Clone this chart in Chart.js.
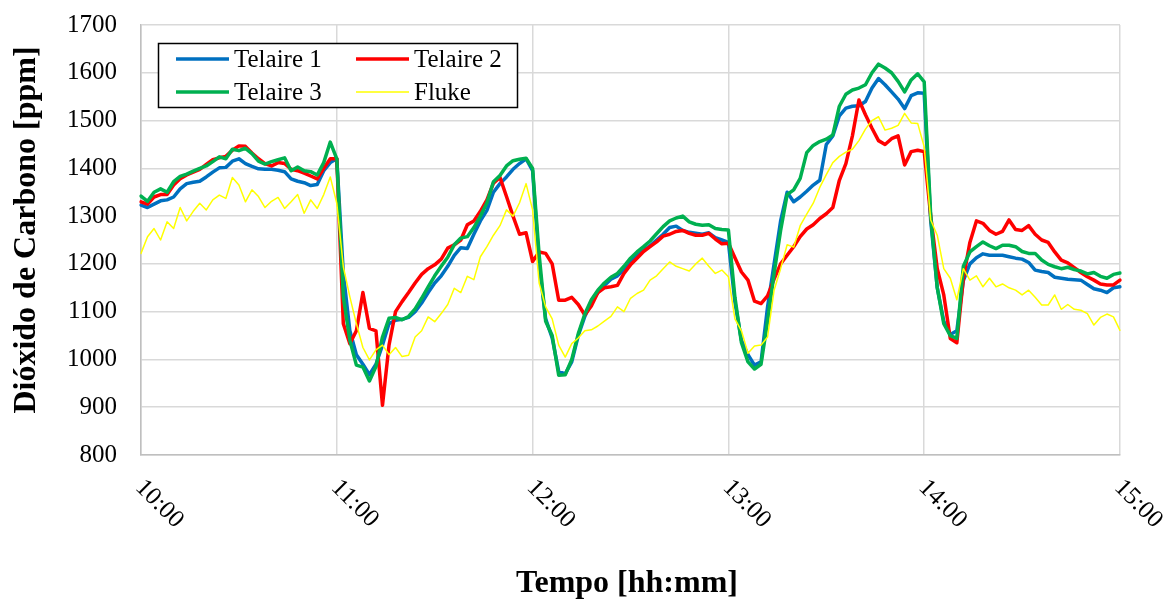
<!DOCTYPE html>
<html>
<head>
<meta charset="utf-8">
<script src="https://cdn.jsdelivr.net/npm/chart.js@4.4.0/dist/chart.umd.min.js"></script>
<style>
  html, body { margin: 0; padding: 0; background: #fff; }
</style>
</head>
<body>
<canvas id="grafico" width="1170" height="603"></canvas>
<script>
// Etiquetas de las horas (ticks del eje X) y limites del eje Y
const etiquetasHora = ['10:00', '11:00', '12:00', '13:00', '14:00', '15:00'];
const yMin = 800, yMax = 1700, yPaso = 100;

// Instantes de muestreo: cada 2 minutos de 10:00 a 15:00
const tiempos = [];
for (let m = 0; m <= 300; m += 2) {
  const h = 10 + Math.floor(m / 60);
  tiempos.push(h + ':' + String(m % 60).padStart(2, '0'));
}

// CO2 [ppm]
const telaire1 = [
  1323, 1318, 1325, 1332, 1334, 1340, 1357, 1368, 1371, 1373, 1382, 1392, 1401, 1402, 1415, 1420, 1410, 1404, 1399, 1398, 1398, 1396, 1393, 1378, 1373, 1370, 1364, 1366, 1395, 1412,
  1420, 1180, 1060, 1010, 990, 968, 990, 1030, 1075, 1082, 1084, 1088, 1100, 1118, 1140, 1160, 1175, 1195, 1218, 1234, 1232, 1262, 1290, 1312, 1350, 1368, 1382, 1398, 1410, 1420,
  1395, 1200, 1085, 1045, 975, 970, 995, 1050, 1090, 1120, 1140, 1155, 1168, 1175, 1188, 1205, 1218, 1228, 1238, 1250, 1262, 1276, 1279, 1270, 1266, 1264, 1262, 1265, 1255, 1250,
  1245, 1120, 1040, 1010, 988, 995, 1110, 1200, 1290, 1350, 1330, 1340, 1352, 1365, 1375, 1450, 1468, 1510, 1526, 1530, 1531, 1540, 1568, 1588, 1575, 1560, 1545, 1525, 1552, 1558,
  1557, 1290, 1150, 1080, 1052, 1060, 1165, 1200, 1213, 1221, 1218, 1218, 1218, 1215, 1212, 1210, 1203, 1187, 1184, 1182, 1172, 1170, 1168, 1167, 1166, 1157, 1148, 1145, 1140, 1150, 1152
];
const telaire2 = [
  1330, 1325, 1340, 1345, 1345, 1365, 1378, 1386, 1392, 1398, 1408, 1418, 1422, 1425, 1438, 1447, 1446, 1432, 1420, 1410, 1405, 1412, 1410, 1398, 1395, 1390, 1384, 1378, 1400, 1420,
  1420, 1075, 1033, 1060, 1140, 1065, 1060, 904, 1030, 1100, 1121, 1140, 1160, 1178, 1190, 1198, 1210, 1233, 1240, 1250, 1282, 1290, 1310, 1334, 1369, 1381, 1341, 1300, 1262, 1265,
  1205, 1225, 1222, 1200, 1124, 1124, 1130, 1115, 1093, 1112, 1140, 1150, 1152, 1155, 1180, 1198, 1212, 1226, 1236, 1246, 1258, 1262, 1268, 1270, 1264, 1260, 1260, 1264, 1252, 1242,
  1243, 1213, 1183, 1166, 1122, 1117, 1133, 1168, 1200, 1218, 1236, 1257, 1273, 1282, 1295, 1305, 1318, 1375, 1410, 1468, 1543, 1512, 1484, 1458, 1450, 1462, 1468, 1407, 1435, 1438,
  1435, 1300, 1190, 1135, 1044, 1035, 1170, 1245, 1290, 1285, 1270, 1262, 1268, 1292, 1272, 1270, 1280, 1262, 1250, 1245, 1225, 1208, 1202, 1192, 1182, 1173, 1166, 1158, 1156, 1156, 1166
];
const telaire3 = [
  1342, 1331, 1350, 1357, 1350, 1372, 1383, 1388, 1394, 1400, 1405, 1414, 1424, 1420, 1440, 1437, 1442, 1431, 1415, 1409, 1414, 1418, 1422, 1395, 1403, 1395, 1393, 1386, 1412, 1455,
  1420, 1131, 1040, 988, 984, 955, 985, 1047, 1086, 1088, 1083, 1090, 1106, 1128, 1152, 1175, 1195, 1214, 1240, 1254, 1257, 1276, 1300, 1328, 1372, 1385, 1405, 1416, 1419, 1421,
  1400, 1220, 1080, 1050, 967, 968, 1000, 1054, 1095, 1125, 1145, 1160, 1172, 1180, 1195, 1212, 1225, 1236, 1248, 1263, 1278, 1290, 1296, 1300, 1288, 1283, 1281, 1282, 1274, 1272,
  1271, 1130, 1035, 995, 980, 990, 1080, 1180, 1270, 1345, 1355, 1379, 1433, 1448, 1456, 1461, 1470, 1530, 1555, 1564, 1568, 1575, 1600, 1618, 1610, 1600, 1582, 1560, 1585, 1598,
  1581, 1300, 1150, 1075, 1050, 1044, 1195, 1225, 1236, 1246, 1238, 1232, 1239, 1239, 1236, 1226, 1222, 1222, 1208, 1199, 1194, 1190, 1193, 1188, 1185, 1179, 1182, 1174, 1170, 1178, 1181
];
const fluke = [
  1222, 1257, 1274, 1250, 1288, 1274, 1318, 1290, 1310, 1327, 1313, 1334, 1344, 1337, 1381, 1365, 1330, 1355, 1341, 1318, 1331, 1339, 1316, 1330, 1345, 1306, 1334, 1316, 1345, 1382,
  1327, 1194, 1131, 1075, 1025, 999, 1020, 1030, 1010, 1025, 1006, 1009, 1047, 1060, 1089, 1079, 1096, 1115, 1149, 1140, 1174, 1167, 1215, 1236, 1260, 1280, 1313, 1300, 1328, 1368,
  1313, 1160, 1110, 1085, 1030, 1005, 1033, 1045, 1060, 1062, 1070, 1080, 1090, 1110, 1100, 1128, 1138, 1145, 1166, 1175, 1190, 1204, 1195, 1190, 1185, 1200, 1212, 1195, 1180, 1187,
  1173, 1085, 1060, 1013, 1028, 1030, 1047, 1145, 1190, 1240, 1235, 1280, 1304, 1327, 1360, 1387, 1412, 1425, 1434, 1440, 1458, 1482, 1500, 1508, 1480, 1484, 1490, 1515, 1495, 1494,
  1445, 1292, 1260, 1190, 1170, 1125, 1190, 1166, 1175, 1152, 1170, 1152, 1158, 1150, 1145, 1135, 1145, 1130, 1114, 1114, 1135, 1105, 1115, 1105, 1103, 1096, 1072, 1088, 1095, 1089, 1061
];

const fuente = '"Liberation Serif", "Times New Roman", serif';

// Leyenda, etiquetas giradas del eje X y titulos de ejes
const extras = {
  id: 'extras',
  afterDraw(chart) {
    const ctx = chart.ctx;
    const area = chart.chartArea;
    const xs = chart.scales.x;
    ctx.save();
    ctx.fillStyle = '#000';

    // etiquetas de hora a 45 grados
    ctx.font = '25px ' + fuente;
    ctx.textAlign = 'left';
    ctx.textBaseline = 'top';
    etiquetasHora.forEach((lab, i) => {
      const px = xs.getPixelForTick(i * 30);
      ctx.save();
      ctx.translate(px + 7, area.bottom + 20);
      ctx.rotate(Math.PI / 4);
      ctx.fillText(lab, 0, 0);
      ctx.restore();
    });

    // titulos
    ctx.font = 'bold 32px ' + fuente;
    ctx.textAlign = 'center';
    ctx.textBaseline = 'middle';
    ctx.fillText('Tempo [hh:mm]', 627, 584);
    ctx.save();
    ctx.translate(27, 230);
    ctx.rotate(-Math.PI / 2);
    ctx.fillText('Dióxido de Carbono [ppm]', 0, 0);
    ctx.restore();

    // leyenda
    ctx.fillStyle = '#fff';
    ctx.fillRect(158, 43, 360, 65);
    ctx.strokeStyle = '#000';
    ctx.lineWidth = 1.5;
    ctx.strokeRect(158.5, 43.5, 359, 64);
    const pos = [[176, 59], [356, 59], [176, 92], [356, 92]];
    chart.data.datasets.forEach((ds, i) => {
      const [lx, ly] = pos[i];
      ctx.strokeStyle = ds.borderColor;
      ctx.lineWidth = ds.borderWidth;
      ctx.beginPath();
      ctx.moveTo(lx, ly);
      ctx.lineTo(lx + 53, ly);
      ctx.stroke();
      ctx.fillStyle = '#000';
      ctx.font = '25px ' + fuente;
      ctx.textAlign = 'left';
      ctx.textBaseline = 'middle';
      ctx.fillText(ds.label, lx + 58, ly + 1);
    });
    ctx.restore();
  }
};

new Chart(document.getElementById('grafico'), {
  type: 'line',
  data: {
    labels: tiempos,
    datasets: [
      { label: 'Telaire 1', data: telaire1, borderColor: '#0070C0', borderWidth: 3.5, order: 3 },
      { label: 'Telaire 2', data: telaire2, borderColor: '#FF0000', borderWidth: 3.5, order: 2 },
      { label: 'Telaire 3', data: telaire3, borderColor: '#00B050', borderWidth: 3.5, order: 1 },
      { label: 'Fluke', data: fluke, borderColor: '#FFFF00', borderWidth: 1.5, order: 0 }
    ]
  },
  options: {
    responsive: false,
    animation: false,
    events: [],
    layout: { padding: { left: 0, right: 50, top: 25, bottom: 0 } },
    elements: {
      point: { radius: 0 },
      line: { tension: 0, fill: false, borderJoinStyle: 'round', borderCapStyle: 'round' }
    },
    plugins: { legend: { display: false }, tooltip: { enabled: false } },
    scales: {
      x: {
        type: 'category',
        offset: false,
        afterFit(scale) { scale.height = 148; scale.paddingLeft = 0; scale.paddingRight = 0; },
        ticks: { display: false, autoSkip: false },
        grid: {
          drawTicks: false,
          lineWidth: 1.5,
          color: c => (c.index % 30 === 0 ? '#D9D9D9' : 'rgba(0,0,0,0)')
        },
        border: { color: '#BFBFBF', width: 1.5 }
      },
      y: {
        min: yMin,
        max: yMax,
        afterFit(scale) { scale.width = 141; scale.paddingTop = 0; scale.paddingBottom = 0; },
        ticks: {
          stepSize: yPaso,
          padding: 24,
          color: '#000',
          font: { family: fuente, size: 25 },
          callback: v => String(v)
        },
        grid: { drawTicks: false, lineWidth: 1.5, color: '#D9D9D9' },
        border: { color: '#BFBFBF', width: 1.5 }
      }
    }
  },
  plugins: [extras]
});
</script>
</body>
</html>
